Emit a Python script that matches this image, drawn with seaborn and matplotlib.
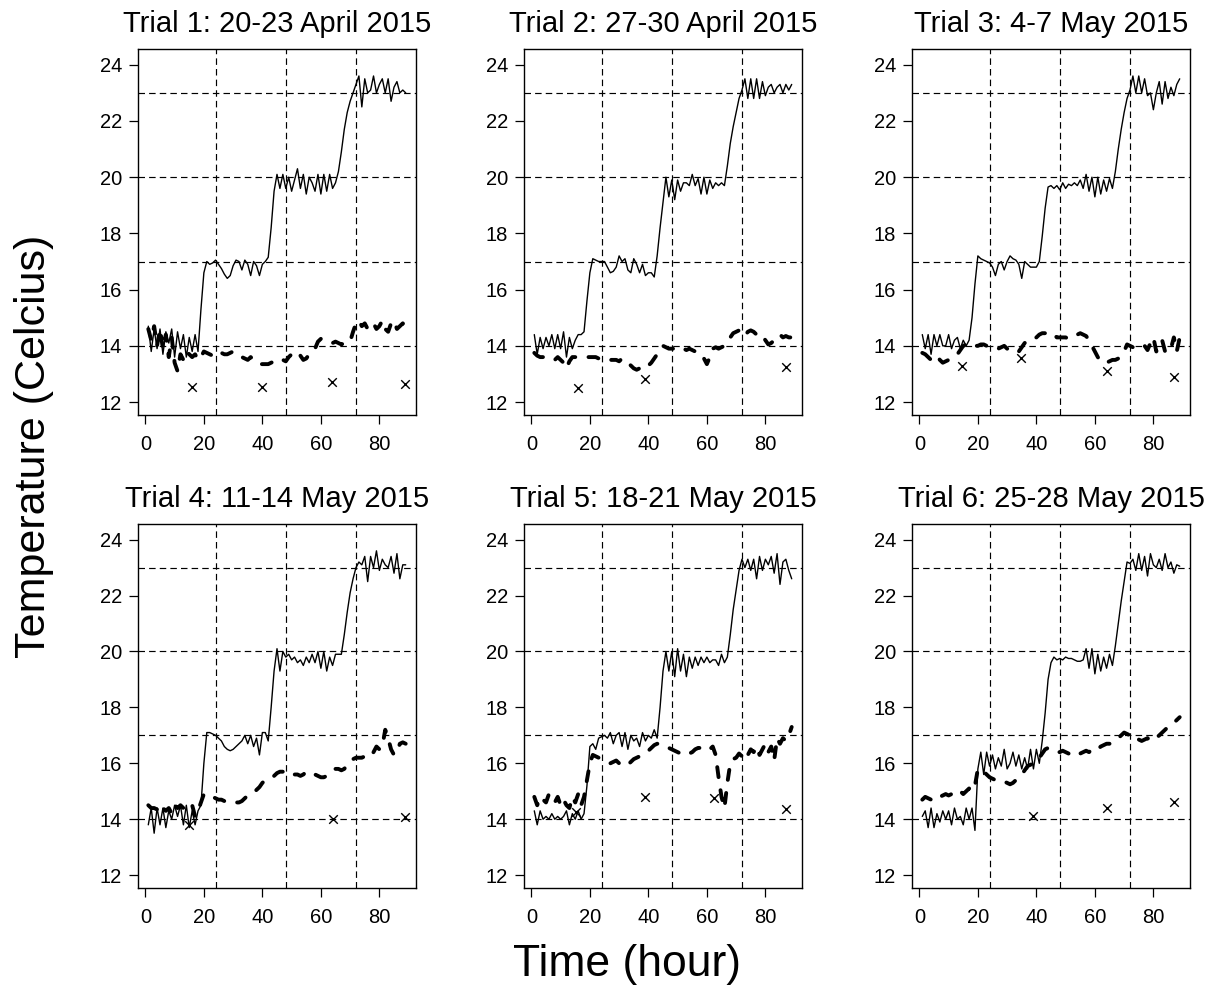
import numpy as np
import pandas as pd
import matplotlib
matplotlib.use("Agg")
import matplotlib.pyplot as plt
import seaborn as sns

# ---------------- data ----------------
titles = ["Trial 1: 20-23 April 2015", "Trial 2: 27-30 April 2015", "Trial 3: 4-7 May 2015",
          "Trial 4: 11-14 May 2015", "Trial 5: 18-21 May 2015", "Trial 6: 25-28 May 2015"]

x_ticks = [0, 20, 40, 60, 80]
y_ticks = [12, 14, 16, 18, 20, 22, 24]
day_lines = [24, 48, 72]
target_levels = [14, 17, 20, 23]

trial1_heated = [
    14.7, 13.8, 14.6, 13.9, 14.6, 13.7, 14.5, 14.1, 14.6, 13.6,
    14.5, 13.9, 14.4, 13.6, 14.3, 13.8, 14.4, 13.8, 15.3, 16.6,
    17.0, 16.9, 16.95, 17.05, 16.9, 16.75, 16.55, 16.4, 16.5, 16.85,
    17.05, 17.0, 16.7, 17.05, 16.9, 16.5, 17.0, 16.85, 16.5, 16.9,
    17.0, 17.15, 18.2, 19.5, 20.1, 19.6, 20.1, 19.6, 20.0, 19.5,
    19.9, 20.3, 19.6, 20.1, 19.4, 20.0, 19.8, 19.5, 20.1, 19.4,
    20.1, 19.5, 20.1, 19.6, 19.8, 20.2, 20.9, 21.7, 22.3, 22.7,
    23.0, 23.3, 23.6, 22.5, 23.5, 23.0, 23.1, 23.6, 23.0, 23.3,
    23.5, 23.0, 23.5, 22.7, 23.2, 23.4, 23.0, 23.1, 23.0]
trial1_ambient = [
    14.6, 14.2, 14.7, 14.0, 14.6, 13.9, 14.4, 13.6, 14.3, 13.4,
    13.1, 13.7, 13.5, 13.8, 13.7, 13.6, 13.7, 13.5, 13.6, 13.8,
    13.75, 13.7, 13.65, 13.75, 13.8, 13.75, 13.7, 13.7, 13.75, 13.8,
    13.75, 13.7, 13.6, 13.55, 13.5, 13.6, 13.5, 13.4, 13.35, 13.35,
    13.35, 13.35, 13.4, 13.45, 13.4, 13.45, 13.5, 13.45, 13.6, 13.7,
    13.75, 13.8, 13.65, 13.5, 13.55, 13.7, 13.75, 13.9, 14.15, 14.25,
    14.2, 14.15, 14.1, 14.1, 14.15, 14.1, 14.05, 14.1, 14.1, 14.15,
    14.5, 14.8, 14.9, 14.7, 14.8, 14.6, 14.7, 14.8, 14.6, 14.7,
    14.9, 14.6, 14.5, 14.8, 14.9, 14.6, 14.7, 14.8, 14.7]
trial1_x_hour = [15.9, 39.8, 63.9, 88.7]
trial1_x_temp = [12.55, 12.55, 12.7, 12.66]

trial2_heated = [
    14.4, 13.7, 14.3, 13.9, 14.3, 14.0, 14.4, 13.9, 14.4, 13.9,
    14.5, 13.6, 14.3, 13.9, 14.2, 14.4, 14.4, 14.5, 15.6, 16.6,
    17.1, 17.05, 17.0, 17.0, 17.0, 16.8, 16.6, 16.65, 16.8, 17.2,
    17.0, 17.1, 16.7, 16.6, 17.1, 16.9, 16.6, 16.9, 16.5, 16.6,
    16.6, 16.45, 17.2, 18.2, 19.1, 20.0, 19.3, 19.9, 19.2, 19.9,
    19.5, 19.8, 19.8, 19.7, 20.1, 19.7, 19.95, 19.4, 20.0, 19.4,
    19.9, 19.6, 19.8, 19.7, 19.8, 19.7, 20.4, 21.2, 21.8, 22.3,
    22.8, 23.1, 23.5, 22.8, 23.5, 22.8, 23.5, 22.8, 23.4, 22.9,
    23.2, 23.3, 23.0, 23.2, 23.3, 23.0, 23.3, 23.1, 23.3]
trial2_ambient = [
    13.75, 13.65, 13.6, 13.6, 13.6, 13.6, 13.55, 13.5, 13.6, 13.5,
    13.4, 13.2, 13.45, 13.6, 13.6, 13.6, 13.6, 13.6, 13.6, 13.6,
    13.6, 13.6, 13.55, 13.55, 13.5, 13.5, 13.5, 13.5, 13.5, 13.45,
    13.55, 13.5, 13.4, 13.3, 13.2, 13.15, 13.2, 13.25, 13.2, 13.3,
    13.4, 13.55, 13.7, 13.9, 14.0, 13.95, 13.9, 13.9, 13.9, 13.85,
    13.9, 13.9, 13.85, 13.9, 13.85, 13.8, 13.8, 13.7, 13.55, 13.35,
    13.6, 13.9, 13.95, 13.9, 13.95, 14.0, 14.15, 14.3, 14.45, 14.5,
    14.55, 14.4, 14.35, 14.5, 14.55, 14.5, 14.4, 14.3, 14.35, 14.2,
    14.05, 14.1, 14.2, 14.35, 14.4, 14.3, 14.35, 14.3, 14.3]
trial2_x_hour = [16.0, 38.7, 87.1]
trial2_x_temp = [12.51, 12.81, 13.25]

trial3_heated = [
    14.4, 13.9, 14.4, 13.7, 14.4, 14.0, 14.4, 14.0, 14.0, 14.4,
    13.9, 14.2, 14.3, 13.9, 14.2, 14.0, 14.2, 15.0, 16.2, 17.2,
    17.1, 17.05, 17.0, 16.95, 16.8, 16.5, 16.9, 17.0, 16.7, 17.0,
    17.2, 17.1, 17.05, 16.9, 16.4, 17.0, 16.9, 16.8, 16.8, 16.8,
    17.0, 17.9, 18.9, 19.65, 19.7, 19.6, 19.7, 19.55, 19.8, 19.6,
    19.75, 19.7, 19.8, 19.7, 19.9, 19.6, 20.1, 19.5, 20.0, 19.3,
    20.0, 19.4, 19.9, 19.5, 19.95, 19.6, 20.2, 21.0, 21.7, 22.3,
    22.8, 23.1, 23.6, 23.0, 23.6, 23.0, 23.5, 22.9, 23.0, 22.4,
    23.0, 23.4, 22.6, 23.4, 22.8, 23.2, 22.9, 23.3, 23.5]
trial3_ambient = [
    13.75, 13.7, 13.6, 13.5, 13.55, 13.65, 13.5, 13.4, 13.45, 13.5,
    13.55, 13.6, 13.7, 13.85, 14.0, 14.05, 14.1, 14.05, 14.0, 14.0,
    14.05, 14.05, 14.0, 14.0, 14.0, 13.95, 13.9, 13.95, 14.0, 13.9,
    13.85, 13.8, 13.75, 13.8, 13.95, 14.1, 14.2, 14.25, 14.25, 14.3,
    14.4, 14.45, 14.45, 14.5, 14.45, 14.4, 14.3, 14.3, 14.3, 14.3,
    14.25, 14.3, 14.35, 14.4, 14.45, 14.4, 14.35, 14.2, 14.0, 13.8,
    13.6, 13.45, 13.4, 13.4, 13.45, 13.5, 13.5, 13.55, 13.65, 13.8,
    14.05, 14.0, 13.95, 14.0, 14.0, 13.95, 14.0, 13.85, 14.1, 14.3,
    13.8, 14.0, 14.2, 13.8, 13.75, 13.9, 14.3, 13.8, 14.3]
trial3_x_hour = [14.7, 34.7, 64.1, 87.1]
trial3_x_temp = [13.3, 13.58, 13.11, 12.88]

trial4_heated = [
    13.8, 14.4, 13.5, 14.4, 13.8, 14.4, 13.7, 14.3, 14.0, 14.5,
    14.1, 14.5, 13.8, 14.5, 13.7, 14.3, 13.8, 14.3, 14.5, 16.0,
    17.1, 17.1, 17.05, 17.0, 16.9, 16.8, 16.6, 16.5, 16.45, 16.5,
    16.6, 16.7, 16.8, 17.0, 16.7, 17.0, 16.6, 16.9, 16.3, 17.1,
    17.1, 16.8, 18.0, 19.3, 20.1, 19.3, 20.0, 19.8, 19.9, 19.7,
    19.8, 19.6, 19.7, 19.5, 19.8, 19.6, 19.9, 19.6, 20.0, 19.4,
    20.0, 19.3, 19.8, 19.5, 19.9, 19.9, 19.9, 20.6, 21.4, 22.1,
    22.6, 23.0, 23.2, 23.1, 23.4, 22.5, 23.4, 23.0, 23.6, 22.9,
    23.3, 23.1, 23.0, 23.4, 22.8, 23.5, 22.6, 23.1, 23.1]
trial4_ambient = [
    14.5, 14.4, 14.4, 14.35, 14.2, 14.4, 14.3, 14.4, 14.2, 14.5,
    14.4, 14.5, 14.4, 14.3, 14.4, 14.5, 14.1, 14.3, 14.6, 14.9,
    14.85, 14.8, 14.8, 14.75, 14.7, 14.7, 14.65, 14.6, 14.6, 14.6,
    14.6, 14.6, 14.65, 14.75, 14.85, 14.9, 14.95, 15.05, 15.15, 15.3,
    15.4, 15.45, 15.5, 15.55, 15.65, 15.7, 15.7, 15.65, 15.6, 15.55,
    15.6, 15.6, 15.55, 15.6, 15.7, 15.7, 15.65, 15.6, 15.55, 15.5,
    15.5, 15.55, 15.65, 15.75, 15.8, 15.8, 15.75, 15.8, 15.95, 16.1,
    16.15, 16.2, 16.2, 16.2, 16.25, 16.2, 16.25, 16.4, 16.6, 16.5,
    16.6, 17.2, 16.9, 16.5, 16.3, 16.4, 16.7, 16.75, 16.7]
trial4_x_hour = [14.8, 64.0, 88.8]
trial4_x_temp = [13.8, 14.0, 14.08]

trial5_heated = [
    14.3, 13.8, 14.3, 14.0, 14.1, 14.0, 14.2, 14.0, 14.1, 14.0,
    14.1, 14.3, 13.8, 14.2, 14.0, 14.3, 14.0, 14.2, 15.2, 16.6,
    16.7, 16.5, 16.9, 16.95, 17.0, 16.9, 17.1, 16.7, 17.0, 17.1,
    16.6, 17.1, 16.5, 17.0, 16.8, 16.9, 16.6, 17.1, 16.8, 17.0,
    16.9, 17.2, 16.9, 18.0, 19.3, 20.0, 19.3, 20.0, 19.1, 20.1,
    19.3, 19.9, 19.1, 19.8, 19.4, 19.8, 19.5, 19.8, 19.6, 19.8,
    19.6, 19.7, 19.7, 19.5, 19.9, 19.6, 19.8, 20.6, 21.5, 22.2,
    22.9, 23.3, 23.0, 23.3, 22.9, 23.3, 22.6, 23.4, 22.9, 23.3,
    23.1, 23.4, 22.8, 23.5, 22.4, 23.2, 23.3, 22.9, 22.6]
trial5_ambient = [
    14.8, 14.5, 14.8, 14.7, 14.6, 14.9, 14.7, 14.6, 14.8, 14.5,
    14.7, 14.5, 14.4, 14.8, 14.6, 14.9, 14.5, 14.8, 15.4, 16.0,
    16.3, 16.25, 16.2, 16.15, 16.1, 16.05, 16.0, 16.05, 16.1, 16.0,
    15.95, 15.9, 15.95, 16.05, 16.15, 16.2, 16.25, 16.3, 16.35, 16.45,
    16.55, 16.65, 16.7, 16.7, 16.65, 16.6, 16.55, 16.5, 16.45, 16.4,
    16.35, 16.3, 16.3, 16.35, 16.4, 16.5, 16.55, 16.55, 16.6, 16.55,
    16.5, 16.6, 16.3, 15.5, 14.8, 14.4, 15.3, 16.0, 16.15, 16.2,
    16.35, 16.25, 16.45, 16.3, 16.5, 16.4, 16.6, 16.3, 16.5, 16.7,
    16.4, 16.6, 16.1, 16.9, 16.7, 16.9, 16.8, 17.0, 17.3]
trial5_x_hour = [15.1, 39.0, 62.6, 87.1]
trial5_x_temp = [14.27, 14.8, 14.77, 14.37]

trial6_heated = [
    14.1, 14.3, 13.7, 14.4, 13.7, 14.2, 13.9, 14.3, 14.0, 14.3,
    13.8, 14.4, 14.0, 14.1, 13.8, 14.4, 14.0, 14.4, 13.6, 15.8,
    16.4, 15.6, 16.4, 15.9, 16.3, 15.8, 16.2, 15.9, 16.5, 15.8,
    16.0, 16.4, 15.9, 16.3, 15.8, 16.2, 15.8, 16.5, 15.8, 16.5,
    16.0, 16.8, 17.8, 19.0, 19.6, 19.8, 19.7, 19.75, 19.7, 19.8,
    19.75, 19.75, 19.7, 19.65, 19.65, 19.7, 20.1, 19.4, 20.1, 19.2,
    19.9, 19.3, 19.8, 19.4, 19.9, 19.5, 20.2, 21.0, 21.8, 22.5,
    23.2, 23.15, 23.3, 22.9, 23.5, 22.9, 23.4, 22.7, 23.5, 23.1,
    23.0, 23.3, 22.9, 23.5, 23.0, 23.2, 22.8, 23.1, 23.05]
trial6_ambient = [
    14.7, 14.8, 14.75, 14.7, 14.65, 14.75, 14.8, 14.85, 14.9, 14.85,
    14.9, 14.95, 14.9, 15.0, 14.9, 15.0, 15.1, 15.0, 15.2, 15.8,
    15.75, 15.7, 15.6, 15.5, 15.45, 15.4, 15.4, 15.35, 15.35, 15.3,
    15.25, 15.3, 15.4, 15.5, 15.6, 15.75, 15.9, 15.95, 16.0, 16.1,
    16.2, 16.35, 16.5, 16.55, 16.5, 16.45, 16.4, 16.4, 16.45, 16.4,
    16.35, 16.3, 16.35, 16.4, 16.35, 16.4, 16.45, 16.4, 16.5, 16.55,
    16.5, 16.6, 16.65, 16.7, 16.7, 16.75, 16.8, 16.9, 17.0, 17.1,
    17.05, 17.0, 16.9, 16.95, 16.85, 16.8, 16.85, 16.9, 16.8, 16.85,
    16.9, 17.0, 17.1, 17.2, 17.3, 17.35, 17.45, 17.55, 17.65]
trial6_x_hour = [39.0, 64.1, 87.1]
trial6_x_temp = [14.13, 14.39, 14.63]

heated = [trial1_heated, trial2_heated, trial3_heated, trial4_heated, trial5_heated, trial6_heated]
ambient = [trial1_ambient, trial2_ambient, trial3_ambient, trial4_ambient, trial5_ambient, trial6_ambient]
x_hours = [trial1_x_hour, trial2_x_hour, trial3_x_hour, trial4_x_hour, trial5_x_hour, trial6_x_hour]
x_temps = [trial1_x_temp, trial2_x_temp, trial3_x_temp, trial4_x_temp, trial5_x_temp, trial6_x_temp]

# ---------------- style ----------------
sns.set_theme(style="ticks")
plt.rcParams['font.family'] = ['Liberation Sans', 'DejaVu Sans']
plt.rcParams.update({
    "text.color": "black",
    "axes.labelcolor": "black",
    "axes.titlecolor": "black",
    "axes.linewidth": 1.0,
    "axes.edgecolor": "black",
    "xtick.color": "black", "ytick.color": "black",
    "xtick.labelcolor": "black", "ytick.labelcolor": "black",
    "xtick.direction": "out", "ytick.direction": "out",
    "xtick.major.size": 6.5, "ytick.major.size": 6.5,
    "xtick.major.width": 0.9, "ytick.major.width": 0.9,
    "xtick.labelsize": 14.5, "ytick.labelsize": 14.5,
    "xtick.major.pad": 8, "ytick.major.pad": 5,
})

W, H = 1221, 989
fig = plt.figure(figsize=(W / 100, H / 100), dpi=100)
fig.patch.set_facecolor("white")

col_left = [138, 524, 912]
col_w = 278
row_tb = [(49, 415), (524, 888)]
grid_ls = (0, (5.5, 3.5))

for i in range(6):
    r, c = divmod(i, 3)
    top, bot = row_tb[r]
    ax = fig.add_axes([col_left[c] / W, 1 - bot / H, col_w / W, (bot - top) / H])
    ax.set_facecolor("white")

    for v in day_lines:
        ax.axvline(v, color="black", lw=0.85, ls=grid_ls, zorder=1)
    for h in target_levels:
        ax.axhline(h, color="black", lw=0.85, ls=grid_ls, zorder=1)

    df_h = pd.DataFrame({"hour": np.arange(1, len(heated[i]) + 1), "temp": heated[i]})
    df_a = pd.DataFrame({"hour": np.arange(1, len(ambient[i]) + 1), "temp": ambient[i]})
    df_x = pd.DataFrame({"hour": x_hours[i], "temp": x_temps[i]})

    sns.lineplot(data=df_h, x="hour", y="temp", ax=ax, color="black", lw=1.0,
                 estimator=None, sort=False, zorder=3)
    sns.lineplot(data=df_a, x="hour", y="temp", ax=ax, color="black", lw=2.8,
                 linestyle=(0, (2.6, 3.4)), dash_capstyle="round",
                 estimator=None, sort=False, zorder=3)
    sns.scatterplot(data=df_x, x="hour", y="temp", ax=ax, marker="x", color="black",
                    s=38, linewidth=1.0, zorder=4)

    ax.set_xlim(-2.52, 92.52)
    ax.set_ylim(11.54, 24.56)
    ax.set_xticks(x_ticks)
    ax.set_yticks(y_ticks)
    ax.set_xlabel("")
    ax.set_ylabel("")
    ax.set_title(titles[i], fontsize=21, pad=12, color="black")
    for s in ax.spines.values():
        s.set_visible(True)
        s.set_linewidth(1.0)
        s.set_color("black")

fig.text(627 / W, 1 - 976 / H, "Time (hour)", ha="center", va="baseline",
         fontsize=32, color="black")
fig.text(34 / W, 1 - 446 / H, "Temperature (Celcius)", rotation=90,
         ha="center", va="center", fontsize=31, color="black")

fig.savefig("out.png", dpi=100, facecolor="white")
